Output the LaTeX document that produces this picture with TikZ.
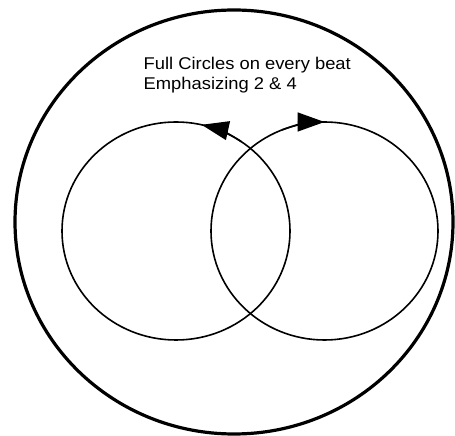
\documentclass[tikz,border=0pt]{standalone}
\usepackage{fontspec}
\setmainfont[FakeStretch=1.08]{Liberation Sans}
\usetikzlibrary{shapes.geometric,arrows.meta}
\begin{document}
\begin{tikzpicture}[x=1pt,y=1pt,
  ring/.style={draw, ellipse, inner sep=0pt, outer sep=0pt, line width=1.6pt},
  outerring/.style={draw, ellipse, inner sep=0pt, outer sep=0pt, line width=3.2pt},
  motion/.style={line width=1.6pt, -{Triangle[length=27pt,width=19pt]}},
  caption/.style={anchor=north west, inner sep=0pt, align=left, font=\fontsize{17}{20.5}\selectfont}
]
\useasboundingbox (0,0) rectangle (455,436);
\node[outerring, minimum width=438pt, minimum height=424pt] (O) at (234,214) {};
\node[ring, minimum width=228pt, minimum height=218pt] (L) at (176,205) {};
\node[ring, minimum width=227pt, minimum height=218pt] (R) at (324.5,205) {};
\draw[motion] ([shift={(55:114 and 109)}]L.center) arc[start angle=55, end angle=77, x radius=114, y radius=109];
\draw[motion] ([shift={(112:113.5 and 109)}]R.center) arc[start angle=112, end angle=90, x radius=113.5, y radius=109];
\node[caption] (T) at (143.5,379.5) {Full Circles on every beat\\Emphasizing 2 \& 4};
\end{tikzpicture}
\end{document}
